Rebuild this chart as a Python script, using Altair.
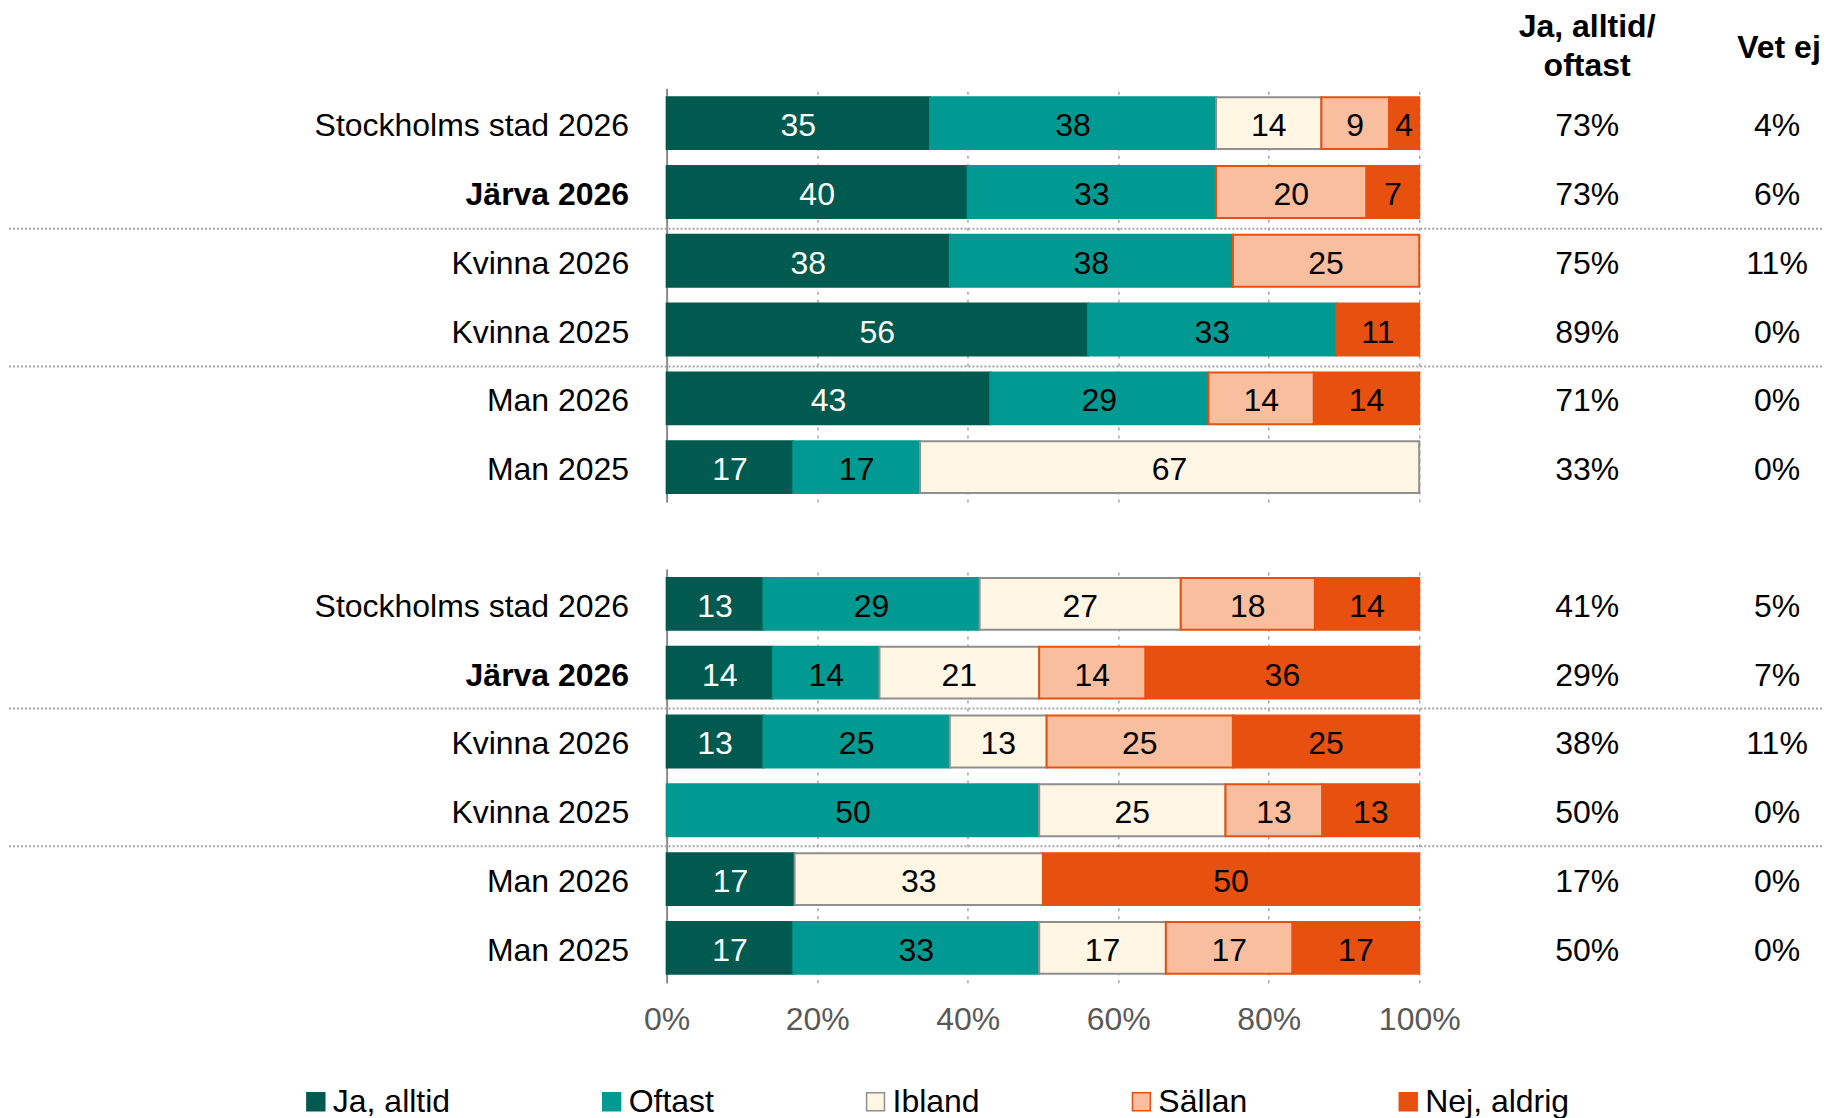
import altair as alt
import pandas as pd

# ---------------- data ----------------
categories = ["Ja, alltid", "Oftast", "Ibland", "Sällan", "Nej, aldrig"]
fill_colors = ["#005A4F", "#009A92", "#FFF6E3", "#F8BE9D", "#E8500F"]
stroke_colors = ["#005A4F", "#009A92", "#8F8F8F", "#E8500F", "#E8500F"]

row_labels = ["Stockholms stad 2026", "Järva 2026", "Kvinna 2026",
              "Kvinna 2025", "Man 2026", "Man 2025"]
separator_rows = ["Kvinna 2026", "Man 2026"]
x_ticks = [0, 0.2, 0.4, 0.6, 0.8, 1.0]

# panel 1
p1_ja = [35, 40, 38, 56, 43, 17]
p1_oftast = [38, 33, 38, 33, 29, 17]
p1_ibland = [14, 0, 0, 0, 0, 67]
p1_sallan = [9, 20, 25, 0, 14, 0]
p1_nej = [4, 7, 0, 11, 14, 0]
p1_ja_oftast = ["73%", "73%", "75%", "89%", "71%", "33%"]
p1_vet_ej = ["4%", "6%", "11%", "0%", "0%", "0%"]

# panel 2
p2_ja = [13, 14, 13, 0, 17, 17]
p2_oftast = [29, 14, 25, 50, 0, 33]
p2_ibland = [27, 21, 13, 25, 33, 17]
p2_sallan = [18, 14, 25, 13, 0, 17]
p2_nej = [14, 36, 25, 13, 50, 17]
p2_ja_oftast = ["41%", "29%", "38%", "50%", "17%", "50%"]
p2_vet_ej = ["5%", "7%", "11%", "0%", "0%", "0%"]

header_col1 = ["Ja, alltid/", "oftast"]
header_col2 = "Vet ej"

FONT = "Liberation Sans"
FS = 32


def long_df(series):
    recs = []
    for ci, cat in enumerate(categories):
        for ri, r in enumerate(row_labels):
            v = series[ci][ri]
            if v > 0:
                recs.append({"row": r, "cat": cat, "order": ci, "value": v})
    return pd.DataFrame(recs)


legend = alt.Legend(
    title=None, orient="none", legendX=-367, legendY=998,
    direction="horizontal", columns=5, columnPadding=145,
    symbolType="square", symbolSize=320, symbolStrokeWidth=1.5,
    labelFontSize=FS, labelColor="#000000", labelOffset=1, labelLimit=400,
    symbolOpacity=1,
)

color_scale = alt.Scale(domain=categories, range=fill_colors)
stroke_scale = alt.Scale(domain=categories, range=stroke_colors)


def make_panel(series, ja_oft, vet_ej, show_x_labels, with_headers, sep_offset):
    df = long_df(series)
    y_scale = alt.Scale(paddingInner=0.246, paddingOuter=0.13)
    y_axis = alt.Axis(
        domain=True, domainColor="#8C8C8C", domainWidth=2, ticks=False, grid=False,
        labelFontSize=FS, labelColor="#000000", labelPadding=38, labelLimit=600,
        labelOffset=3,
        labelFontWeight={"condition": {"test": "datum.value === 'Järva 2026'", "value": "bold"},
                         "value": "normal"},
        title=None,
    )
    y_enc = alt.Y("row:N", sort=row_labels, scale=y_scale, axis=y_axis, title=None)
    x_scale = alt.Scale(domain=[0, 1], nice=False, zero=True)
    x_axis = alt.Axis(
        values=x_ticks, format="%", grid=True, gridColor="#A6A6A6", gridDash=[3, 5],
        gridWidth=1.5, domain=False, ticks=False, labels=show_x_labels,
        labelFlush=False, labelOverlap=False,
        labelFontSize=FS, labelColor="#595959", labelPadding=22, title=None,
    )

    stacked = alt.Chart(df).transform_stack(
        stack="value", groupby=["row"], as_=["v0", "v1"], offset="normalize",
        sort=[alt.SortField("order", order="ascending")],
    )

    bars = stacked.mark_bar(strokeWidth=2).encode(
        y=y_enc,
        x=alt.X("v0:Q", scale=x_scale, axis=x_axis, title=None),
        x2="v1:Q",
        color=alt.Color("cat:N", scale=color_scale, legend=legend, sort=categories),
        stroke=alt.Stroke("cat:N", scale=stroke_scale, legend=legend, sort=categories),
    )

    labels = stacked.transform_calculate(
        mid="(datum.v0 + datum.v1) / 2"
    ).mark_text(fontSize=FS, baseline="middle", align="center", dy=3).encode(
        y=y_enc,
        x=alt.X("mid:Q", scale=x_scale, axis=x_axis, title=None),
        text="value:Q",
        color=alt.condition("datum.cat === 'Ja, alltid'", alt.value("#FFFFFF"), alt.value("#000000")),
    )

    cols_df = pd.DataFrame({"row": row_labels, "jo": ja_oft, "ve": vet_ej})
    col1 = alt.Chart(cols_df).mark_text(fontSize=FS, color="#000000", baseline="middle", dy=3).encode(
        y=y_enc, x=alt.value(921), text="jo:N")
    col2 = alt.Chart(cols_df).mark_text(fontSize=FS, color="#000000", baseline="middle", dy=3).encode(
        y=y_enc, x=alt.value(1111), text="ve:N")

    sep_df = pd.DataFrame({"row": separator_rows})
    seps = alt.Chart(sep_df).mark_rule(
        color="#A6A6A6", strokeWidth=2, strokeDash=[2, 2], yOffset=sep_offset
    ).encode(
        y=alt.Y("row:N", sort=row_labels, scale=y_scale, axis=y_axis, title=None, bandPosition=0),
        x=alt.value(-658), x2=alt.value(1156),
    )

    layers = [bars, labels, col1, col2, seps]

    if with_headers:
        one = alt.Data(values=[{"k": 1}])
        h1 = alt.Chart(one).mark_text(fontSize=FS, fontWeight="bold", baseline="middle").encode(
            x=alt.value(921), y=alt.value(-61), text=alt.value(header_col1[0]))
        h2 = alt.Chart(one).mark_text(fontSize=FS, fontWeight="bold", baseline="middle").encode(
            x=alt.value(921), y=alt.value(-22), text=alt.value(header_col1[1]))
        h3 = alt.Chart(one).mark_text(fontSize=FS, fontWeight="bold", baseline="middle").encode(
            x=alt.value(1113), y=alt.value(-40), text=alt.value(header_col2))
        layers += [h1, h2, h3]

    return alt.layer(*layers).properties(width=753, height=414)


panel1 = make_panel([p1_ja, p1_oftast, p1_ibland, p1_sallan, p1_nej],
                    p1_ja_oftast, p1_vet_ej, False, True, -6)
panel2 = make_panel([p2_ja, p2_oftast, p2_ibland, p2_sallan, p2_nej],
                    p2_ja_oftast, p2_vet_ej, True, False, -7)

chart = alt.vconcat(panel1, panel2, spacing=67).properties(
    padding={"left": 0, "top": 3, "right": 0, "bottom": 0}
).configure(
    font=FONT
).configure_view(
    stroke=None
)

chart.save("out.html", embed_options={"renderer": "svg", "actions": False})
